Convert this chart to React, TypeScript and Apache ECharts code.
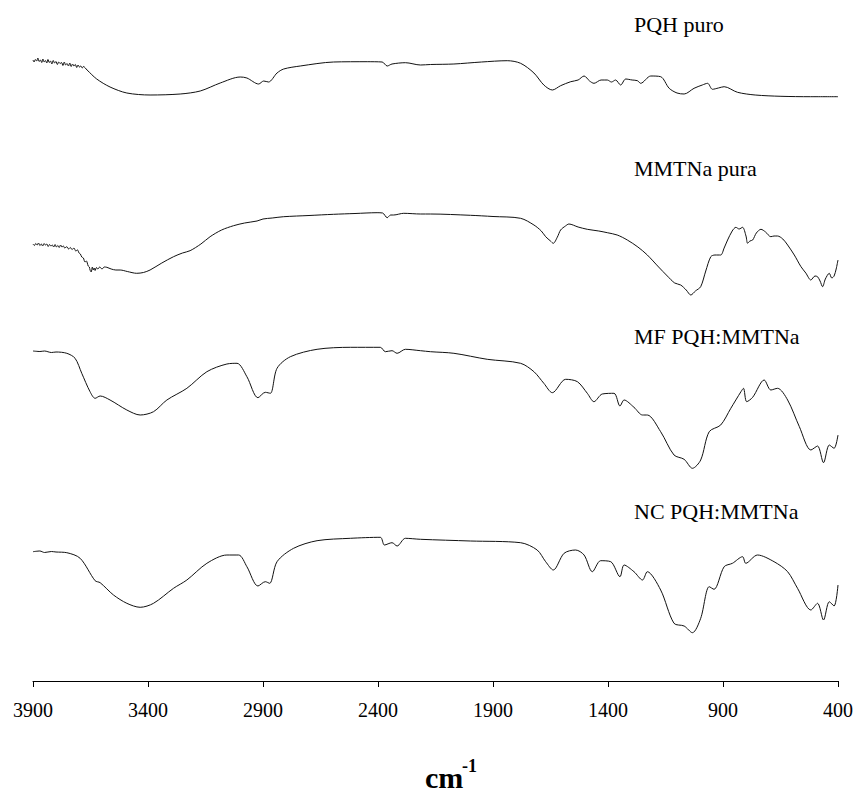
import React, { useEffect, useRef } from "react";
import * as echarts from "echarts";

// wavenumber (cm-1) and relative transmittance (offset, arbitrary units)
const pqhPuro: [number, number][] = [
  [3900, 621], [3895, 619], [3890, 621.5], [3884, 620], [3879, 623], [3873, 619.5], [3868, 621], [3862, 618.5],
  [3857, 622], [3851, 619], [3846, 620.5], [3840, 618], [3835, 621.5], [3829, 618.5], [3824, 620], [3818, 617],
  [3812, 620.5], [3806, 618], [3800, 619.5], [3794, 616.5], [3788, 619], [3782, 617.5], [3776, 618.5], [3770, 615.5],
  [3764, 619], [3758, 616], [3752, 617.5], [3746, 615], [3740, 618], [3734, 614.5], [3728, 617], [3722, 615],
  [3716, 616.5], [3710, 613.5], [3704, 616], [3698, 614], [3692, 615], [3686, 613], [3681, 614.5], [3665, 611],
  [3623, 602], [3565, 594], [3492, 588], [3391, 586], [3260, 587], [3173, 590], [3086, 598], [2999, 604],
  [2970, 603], [2919, 597], [2897, 600], [2876, 599], [2839, 608], [2810, 612], [2738, 615], [2593, 619],
  [2447, 619.3], [2382, 619], [2360, 615], [2339, 617], [2281, 618.3], [2215, 616], [2172, 616.5], [2070, 617],
  [1950, 619], [1838, 620.3], [1780, 617.7], [1722, 608], [1679, 596], [1642, 591], [1606, 595.3], [1562, 599.3],
  [1530, 601], [1504, 605], [1480, 600], [1461, 597.7], [1430, 601], [1403, 601], [1385, 599], [1367, 601],
  [1345, 596], [1323, 602], [1295, 601], [1272, 600.3], [1258, 597.7], [1214, 605], [1171, 604.3], [1134, 592.7],
  [1100, 588], [1069, 587], [1026, 592.7], [990, 596], [967, 597.7], [946, 591.7], [920, 593], [895, 594.3],
  [837, 588.7], [760, 586], [648, 584.7], [520, 584.3], [400, 584.3],
];

const mmtnaPura: [number, number][] = [
  [3900, 437], [3894, 435.5], [3888, 437.5], [3882, 436], [3876, 438], [3870, 435.5], [3864, 437], [3858, 435],
  [3852, 437.5], [3846, 436], [3840, 437], [3834, 434.5], [3828, 436.5], [3822, 435], [3816, 436], [3810, 434],
  [3804, 436.5], [3798, 434], [3792, 435.5], [3786, 433.5], [3780, 436], [3774, 434], [3768, 435], [3762, 433],
  [3753, 434.3], [3745, 432], [3738, 433.5], [3730, 431.5], [3722, 433], [3714, 430], [3706, 431], [3700, 428],
  [3694, 427], [3688, 424], [3681, 423], [3674, 419], [3668, 420], [3660, 415], [3655, 414], [3652, 411],
  [3647, 409], [3642, 414], [3638, 411], [3634, 413], [3630, 410.5], [3624, 413.5], [3618, 412], [3610, 414],
  [3600, 412], [3590, 414], [3579, 413.7], [3560, 412], [3540, 411], [3521, 411], [3490, 409.5], [3449, 407.7],
  [3420, 408.5], [3391, 411], [3340, 418], [3289, 424.3], [3250, 428], [3217, 430.3], [3170, 437], [3130, 444.3],
  [3080, 451], [3028, 455.3], [2980, 458], [2926, 460], [2900, 462], [2860, 463], [2810, 464.3], [2700, 465.5],
  [2593, 466.7], [2500, 467.5], [2404, 468.3], [2380, 468], [2360, 463.3], [2345, 466], [2332, 466], [2288, 467.7],
  [2215, 467], [2172, 467], [1998, 465.7], [1900, 464.5], [1780, 462.7], [1722, 456], [1690, 450], [1671, 444.3],
  [1650, 440], [1638, 437.7], [1620, 444], [1606, 451], [1585, 455], [1570, 457], [1530, 454], [1490, 451.7],
  [1440, 450], [1403, 448.3], [1360, 446], [1316, 441], [1270, 434], [1229, 426], [1180, 414], [1142, 405],
  [1110, 398], [1084, 396], [1060, 391], [1040, 386], [1020, 390], [997, 394.3], [975, 410], [953, 424.3],
  [935, 426], [910, 426], [895, 433], [880, 441], [860, 450], [844, 453.7], [830, 452], [815, 453.7],
  [800, 445], [793, 437.7], [783, 440], [771, 441], [755, 448], [735, 451.7], [715, 449], [692, 444.3],
  [678, 445], [663, 445], [640, 442], [619, 436], [590, 426], [561, 414.3], [540, 408], [518, 401],
  [500, 405], [489, 404.3], [478, 400], [467, 394.3], [455, 402], [438, 407.7], [427, 403], [417, 405],
  [408, 412], [400, 421],
];

const mfPqhMmtna: [number, number][] = [
  [3900, 330], [3870, 329.5], [3850, 330], [3820, 328.5], [3800, 329], [3753, 327.7], [3717, 322.7], [3688, 307.7],
  [3652, 289.3], [3630, 282.7], [3608, 285], [3565, 281], [3492, 271], [3434, 266], [3376, 269.3], [3318, 281],
  [3231, 292.7], [3144, 309.3], [3057, 317], [3013, 317.7], [2970, 304.3], [2922, 283.3], [2890, 288.7], [2868, 287.7],
  [2839, 312.7], [2781, 324.3], [2665, 331.7], [2520, 333.7], [2390, 333.7], [2368, 329.3], [2339, 330.3], [2317, 327.7],
  [2281, 331.7], [2215, 330.3], [2172, 329.3], [2070, 327.7], [1925, 321.7], [1780, 317.7], [1722, 309.3], [1679, 297.7],
  [1642, 288.3], [1584, 301.7], [1533, 299.3], [1490, 287.7], [1461, 279.3], [1425, 287], [1374, 287.7], [1348, 275],
  [1330, 281], [1287, 273.7], [1250, 266], [1229, 266], [1171, 249.3], [1113, 226], [1069, 221.7], [1033, 212.7],
  [997, 221], [960, 249.3], [910, 256], [866, 272.7], [822, 289.3], [811, 292.7], [797, 279.3], [771, 283.7],
  [721, 301], [692, 291], [663, 292.7], [619, 281], [568, 254.3], [518, 231], [489, 235], [463, 218.3],
  [438, 236], [417, 232.7], [400, 246],
];

const ncPqhMmtna: [number, number][] = [
  [3900, 129.3], [3870, 130], [3850, 128.5], [3820, 129.5], [3800, 129], [3753, 128.3], [3695, 122.7], [3630, 100.3],
  [3608, 98.3], [3550, 86], [3492, 77.7], [3434, 73.7], [3376, 77.7], [3289, 92.7], [3231, 101], [3144, 117.7],
  [3057, 126], [3006, 126], [2970, 114.3], [2922, 95], [2890, 99.3], [2871, 97.7], [2839, 119.3], [2767, 132.7],
  [2665, 140.3], [2520, 142.7], [2390, 143.7], [2372, 136], [2339, 138.3], [2317, 135], [2281, 142.7], [2215, 141.7],
  [1998, 140], [1780, 138.3], [1708, 131], [1671, 119.3], [1638, 111], [1591, 127.7], [1541, 131], [1504, 126],
  [1468, 109.3], [1432, 120.3], [1388, 119.3], [1348, 104.3], [1330, 116], [1287, 109.3], [1250, 101], [1229, 109.3],
  [1171, 91], [1113, 57.7], [1069, 55], [1033, 48.3], [997, 62.7], [960, 94.3], [939, 91.7], [895, 114.3],
  [859, 117.7], [815, 124.3], [801, 117.7], [750, 126], [678, 119.3], [619, 109.3], [576, 92.7], [518, 71],
  [489, 77.7], [463, 61], [438, 79.3], [417, 75], [400, 96],
];

const seriesNames = ["PQH puro", "MMTNa pura", "MF PQH:MMTNa", "NC PQH:MMTNa"];
const seriesData = [pqhPuro, mmtnaPura, mfPqhMmtna, ncPqhMmtna];
const labelTops = [13, 157, 325, 500];
const xMin = 400;
const xMax = 3900;
const xStep = 500;

const FONT = "Liberation Serif";

export default function App() {
  const ref = useRef<HTMLDivElement>(null);
  useEffect(() => {
    if (!ref.current) return;
    const chart = echarts.init(ref.current, undefined, { renderer: "svg" });
    chart.setOption({
      animation: false,
      backgroundColor: "#ffffff",
      textStyle: { fontFamily: FONT },
      grid: { left: 33, right: 20, top: 0, bottom: 113, containLabel: false },
      xAxis: {
        type: "value",
        inverse: true,
        min: xMin,
        max: xMax,
        interval: xStep,
        axisLine: { show: true, lineStyle: { color: "#000", width: 1 } },
        axisTick: { show: true, inside: false, length: 6, lineStyle: { color: "#000", width: 1 } },
        axisLabel: {
          color: "#000",
          fontFamily: FONT,
          fontSize: 20,
          margin: 19,
          formatter: (v: number) => String(v),
        },
        splitLine: { show: false },
      },
      yAxis: {
        type: "value",
        min: 0,
        max: 681,
        show: false,
        splitLine: { show: false },
      },
      series: seriesData.map((d, i) => ({
        name: seriesNames[i],
        type: "line",
        data: d,
        showSymbol: false,
        smooth: 0.3,
        lineStyle: { color: "#111", width: 1 },
      })),
      graphic: [
        ...seriesNames.map((n, i) => ({
          type: "text",
          left: 634,
          top: labelTops[i],
          style: { text: n, fill: "#000", fontFamily: FONT, fontSize: 22 },
        })),
        {
          type: "text",
          left: 425,
          top: 762,
          style: { text: "cm", fill: "#000", fontFamily: FONT, fontSize: 30, fontWeight: "bold" },
        },
        {
          type: "text",
          left: 462,
          top: 757,
          style: { text: "-1", fill: "#000", fontFamily: FONT, fontSize: 18, fontWeight: "bold" },
        },
      ],
    });
    return () => chart.dispose();
  }, []);
  return (
    <div
      ref={ref}
      style={{ position: "absolute", left: 0, top: 0, width: 858, height: 794 }}
    />
  );
}
